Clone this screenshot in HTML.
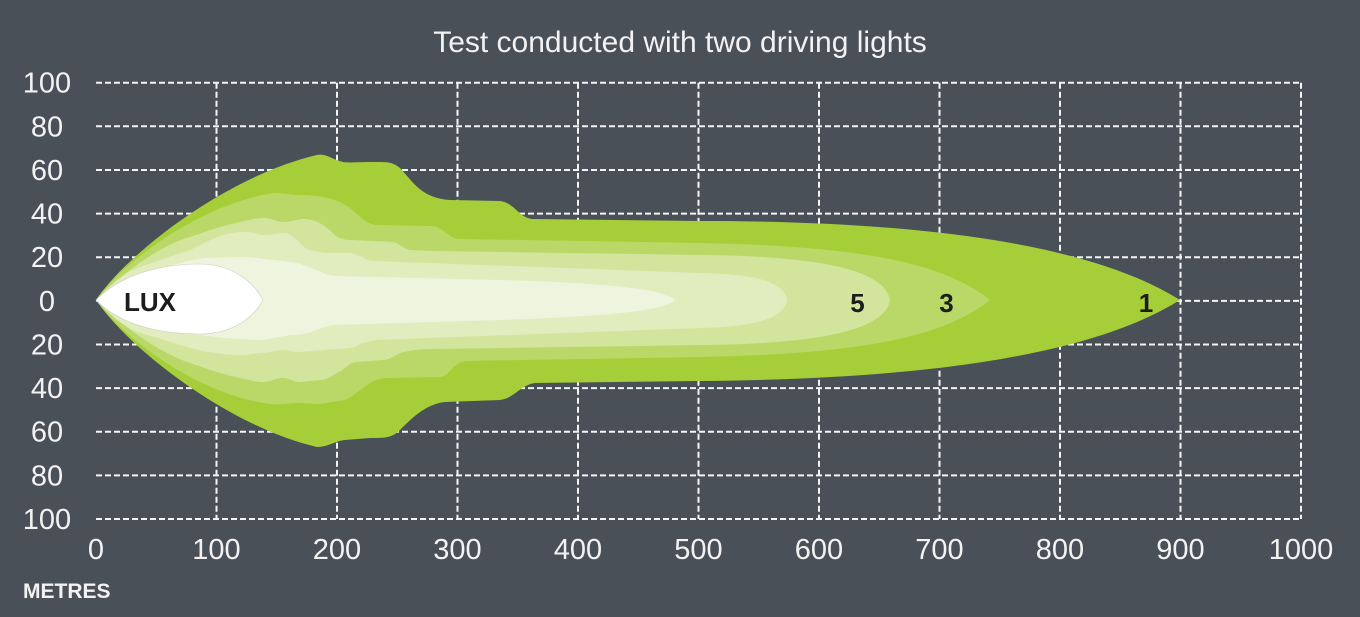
<!DOCTYPE html>
<html>
<head>
<meta charset="utf-8">
<style>
  html, body { margin: 0; padding: 0; background: #4a5058; }
  svg { display: block; }
  text { font-family: "Liberation Sans", sans-serif; }
</style>
</head>
<body>
<svg width="1360" height="617" viewBox="0 0 1360 617" xmlns="http://www.w3.org/2000/svg">
  <rect width="1360" height="617" fill="#4a5058"/>

  <!-- Title -->
  <text x="680" y="52" text-anchor="middle" font-size="30" fill="#f2f2f2">Test conducted with two driving lights</text>

  <!-- Grid -->
  <g stroke="#f4f4f4" stroke-width="2" stroke-dasharray="6 3" fill="none">
    <path d="M96 82.7H1301 M96 126.3H1301 M96 170H1301 M96 213.6H1301 M96 257.2H1301 M96 300.9H1301 M96 344.5H1301 M96 388.1H1301 M96 431.7H1301 M96 475.4H1301 M96 519H1301"/>
    <path d="M216.5 82.7V519 M337 82.7V519 M457.5 82.7V519 M578 82.7V519 M698.5 82.7V519 M819 82.7V519 M939.5 82.7V519 M1060 82.7V519 M1180.5 82.7V519 M1301 82.7V519"/>
  </g>

  <!-- Beam layers -->
  <path fill="#a6ce39" d="M96,300 C130,250 230,175 317,155 C326,153 333,160 343,162 C350,163 358,162 370,162 C385,162 392,161 400,168 C412,180 420,198 450,200 L500,201 C515,203 518,217 532,219 L700,221 C950,221 1100,250 1180,300 C1100,350 950,379 700,381 L535,383 C520,385 515,398 500,400 L445,402 C425,404 410,420 400,430 C392,438 385,438 370,438 L345,440 C335,441 328,447 317,447 C230,427 130,350 96,300 Z"/>

  <path fill="#bad868" d="M96,300 C125,260 200,205 273,193 C285,193 290,195 297,195 C310,195 318,196 323,197 C335,199 343,203 350,208 C358,214 365,224 377,225 L433,226 C445,228 448,239 460,239 L700,243 C850,246 940,260 990,300 C940,340 850,354 700,357 L465,361 C452,363 450,376 440,377 L385,378 C372,379 367,386 360,390 C352,396 348,400 340,401 L320,404 C310,404 305,403 297,403 C285,404 280,405 270,404 C200,395 125,340 96,300 Z"/>

  <path fill="#d3e59c" d="M96,300 C120,275 160,245 190,237 C210,230 225,225 240,222 C250,220 256,218 263,218 C272,218 276,222 283,222 C292,222 297,219 303,219 C312,219 318,222 323,225 C330,229 334,236 340,238 C345,240 348,240 352,240 L393,242 C399,243 402,248 410,250 L433,251 L700,255 C820,256 885,270 890,300 C885,330 820,344 700,345 L433,349 C418,349 408,351 400,353 C392,357 388,360 383,360 L355,362 C347,364 343,371 337,373 C330,377 326,380 320,380 L300,382 C292,382 290,378 283,378 C275,378 270,382 263,382 C255,382 250,380 240,378 C225,375 210,370 190,363 C160,353 120,325 96,300 Z"/>

  <path fill="#e1ecbf" d="M96,300 C110,285 125,272 140,267 C160,260 175,255 190,250 C205,243 215,237 223,235 C235,232 240,232 247,232 C255,232 258,235 263,235 C272,235 278,233 283,233 C290,233 293,237 297,240 C302,245 305,249 310,250 C318,252 322,253 330,253 L350,253 C356,254 358,256 362,257 C366,259 367,261 375,261 L700,273 C755,274 785,282 787,300 C785,318 755,327 700,328 L375,340 C368,341 366,343 363,343 C357,345 355,348 350,348 L300,352 C292,352 290,350 283,350 C275,350 270,353 263,353 C255,353 250,355 240,355 C225,355 205,352 190,348 C175,344 160,338 140,333 C125,328 110,315 96,300 Z"/>

  <path fill="#eef4de" d="M96,300 C120,285 150,270 173,265 C190,260 200,258 207,258 L240,257 C255,257 262,259 273,260 C285,261 290,262 297,263 C305,265 310,268 317,270 C322,272 325,275 335,276 L500,280 C590,282 665,288 675,300 C665,312 590,317 500,320 L335,325 C325,326 322,328 317,330 C305,334 300,335 290,335 C275,338 265,340 257,340 L223,338 C200,335 180,332 157,328 C130,322 110,312 96,300 Z"/>

  <path fill="#ffffff" stroke="#c9cfc0" stroke-width="0.6" d="M96,300 C120,275 160,264 200,264 C235,264 255,285 263,300 C255,315 235,334 200,334 C160,334 120,325 96,300 Z"/>

  <!-- Lux labels -->
  <g font-weight="bold" fill="#1d1d1b" font-size="26">
    <text x="124" y="311">LUX</text>
    <text x="857.5" y="312" text-anchor="middle">5</text>
    <text x="946.5" y="312" text-anchor="middle">3</text>
    <text x="1146" y="312" text-anchor="middle">1</text>
  </g>

  <!-- Y-axis labels -->
  <g fill="#f2f2f2" font-size="29" text-anchor="middle">
    <text x="47" y="92.7">100</text>
    <text x="47" y="136.3">80</text>
    <text x="47" y="180">60</text>
    <text x="47" y="223.6">40</text>
    <text x="47" y="267.2">20</text>
    <text x="47" y="310.9">0</text>
    <text x="47" y="354.5">20</text>
    <text x="47" y="398.1">40</text>
    <text x="47" y="441.7">60</text>
    <text x="47" y="485.4">80</text>
    <text x="47" y="529">100</text>
  </g>

  <!-- X-axis labels -->
  <g fill="#f2f2f2" font-size="29" text-anchor="middle">
    <text x="96" y="559">0</text>
    <text x="216.5" y="559">100</text>
    <text x="337" y="559">200</text>
    <text x="457.5" y="559">300</text>
    <text x="578" y="559">400</text>
    <text x="698.5" y="559">500</text>
    <text x="819" y="559">600</text>
    <text x="939.5" y="559">700</text>
    <text x="1060" y="559">800</text>
    <text x="1180.5" y="559">900</text>
    <text x="1301" y="559">1000</text>
  </g>

  <text x="23" y="598" font-size="21" font-weight="bold" fill="#f2f2f2">METRES</text>
</svg>
</body>
</html>
